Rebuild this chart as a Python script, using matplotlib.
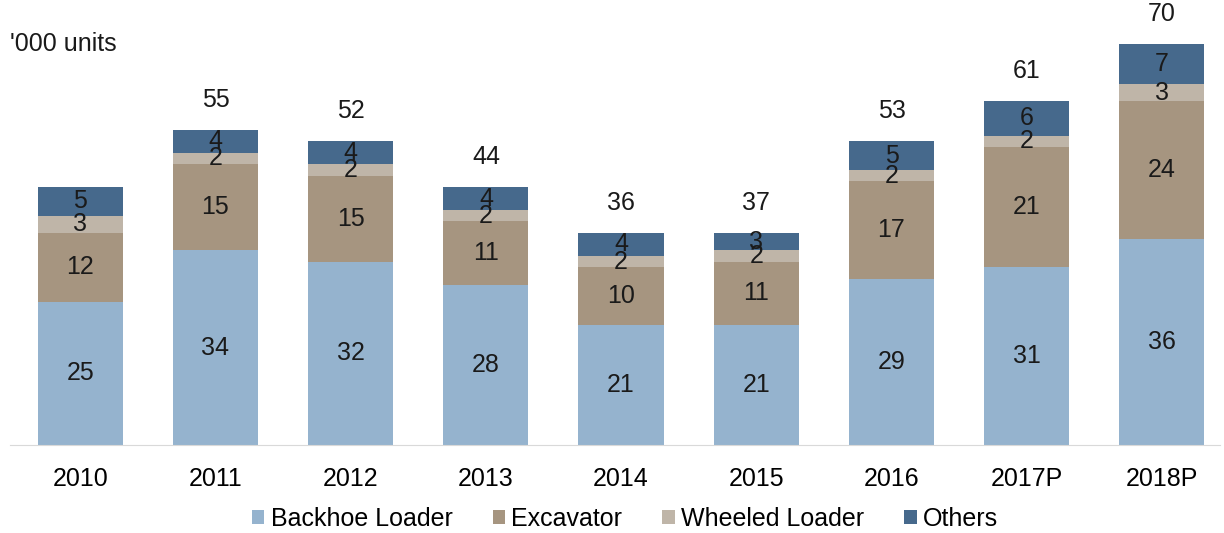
import matplotlib
matplotlib.use('Agg')
import matplotlib.pyplot as plt
import numpy as np

plt.rcParams['font.family'] = ['Liberation Sans', 'DejaVu Sans']

years = ['2010', '2011', '2012', '2013', '2014', '2015', '2016', '2017P', '2018P']
backhoe = [25, 34, 32, 28, 21, 21, 29, 31, 36]
excavator = [12, 15, 15, 11, 10, 11, 17, 21, 24]
wheeled = [3, 2, 2, 2, 2, 2, 2, 2, 3]
others = [5, 4, 4, 4, 4, 3, 5, 6, 7]
totals = [None, 55, 52, 44, 36, 37, 53, 61, 70]

series = [('Backhoe Loader', backhoe, '#95b3ce'),
          ('Excavator', excavator, '#a69580'),
          ('Wheeled Loader', wheeled, '#bfb5a8'),
          ('Others', others, '#46698c')]

fig = plt.figure(figsize=(12.24, 5.33), dpi=100)
ax = fig.add_axes([10 / 1224, 88 / 533, 1210 / 1224, 435 / 533])

x = np.arange(len(years))
bottom = np.zeros(len(years))
for name, vals, color in series:
    vals = np.array(vals, dtype=float)
    ax.bar(x, vals, 0.63, bottom=bottom, color=color, label=name)
    for xi, b, v in zip(x, bottom, vals):
        ax.text(xi, b + v / 2, f'{int(v)}', ha='center', va='center',
                fontsize=18, color='#1a1a1a')
    bottom += vals

for xi, top, t in zip(x, bottom, totals):
    if t is not None:
        ax.text(xi, top + 5.2, str(t), ha='center', va='center', fontsize=18,
                color='#1a1a1a')

ax.set_xlim(-0.52, 8.43)
ax.set_ylim(0, 75.9)
ax.set_xticks(x)
ax.set_xticklabels(years, fontsize=18)
ax.tick_params(axis='x', length=0, pad=16)
ax.set_yticks([])
for s in ['top', 'right', 'left']:
    ax.spines[s].set_visible(False)
ax.spines['bottom'].set_color('#d9d9d9')

fig.text(10 / 1224, 1 - 44 / 533, "'000 units", fontsize=18, va='center',
         color='#1a1a1a')

fig.legend(loc='center', bbox_to_anchor=(625 / 1224, 1 - 519 / 533), ncol=4,
           frameon=False, fontsize=18, handlelength=0.5, handleheight=0.5,
           handletextpad=0.25, columnspacing=1.6)

fig.savefig('out.png', dpi=100)
